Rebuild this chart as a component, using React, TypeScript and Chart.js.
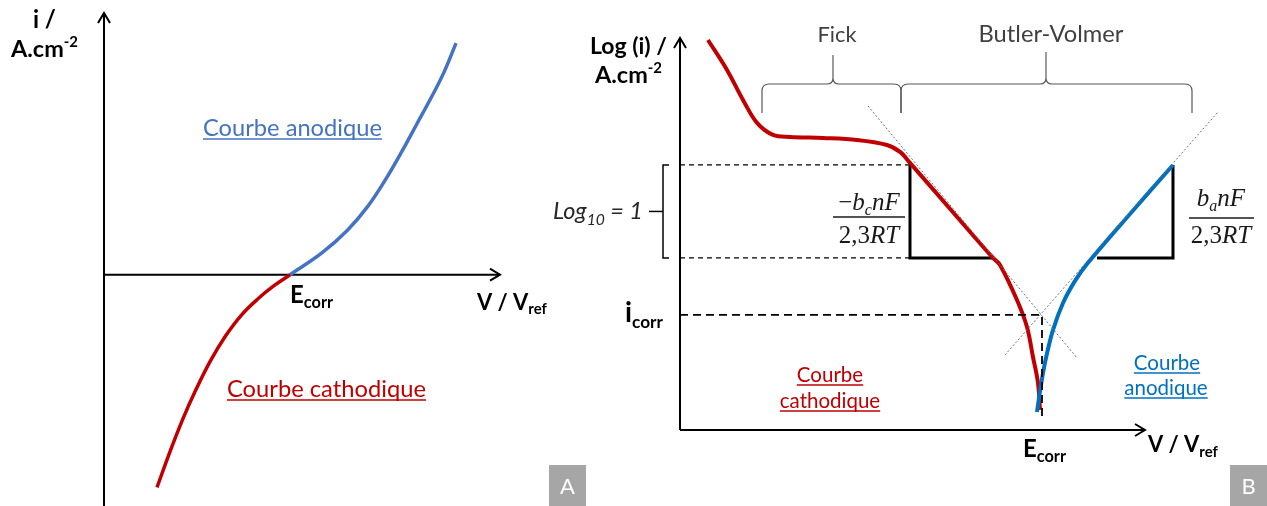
import React, { useEffect, useRef } from "react";
import { Chart, registerables } from "chart.js";

Chart.register(...registerables);

const W = 1267;
const H = 506;

const RED = "#C00000";
const BLUE_A = "#4472C4";
const BLUE_B = "#0070C0";
const SANS = "Lato, 'Open Sans', sans-serif";
const SERIF = "'Liberation Serif', 'DejaVu Serif', serif";

// ---------------- Panel A : i = f(V) (arbitrary units) ----------------
const A_V_MIN = 0;
const A_V_MAX = 10;
const A_I_MIN = -8.8;
const A_I_MAX = 10;
const A_ECORR = 4.7;

const cathodicA_V = [1.338, 1.667, 1.995, 2.323, 2.677, 3.056, 3.46, 3.889, 4.293, 4.7];
const cathodicA_i = [-8.13, -6.76, -5.5, -4.39, -3.32, -2.37, -1.56, -0.92, -0.42, 0];
const anodicA_V = [4.7, 5.51, 6.16, 6.67, 7.12, 7.53, 7.9, 8.26, 8.59, 8.89];
const anodicA_i = [0, 0.84, 1.72, 2.63, 3.66, 4.73, 5.76, 6.76, 7.75, 8.85];

// ---------------- Panel B : log(i) = f(V) ----------------
const B_V_MIN = 0;
const B_V_MAX = 12;
const B_V_AXIS_END = 10;
const B_LOGI_MIN = -6.85;
const B_LOGI_MAX = -2.635;
const B_ECORR = 7.785;
const B_LOG_ICORR = -5.613;

const cathodicB_V = [0.602, 1.011, 1.355, 1.656, 2.0, 2.366, 3.075, 3.806, 4.452, 4.731, 4.946, 5.828, 6.731, 6.882, 7.247, 7.462, 7.591, 7.699, 7.742];
const cathodicB_logi = [-2.656, -2.978, -3.301, -3.548, -3.677, -3.699, -3.71, -3.731, -3.785, -3.86, -3.978, -4.484, -5.0, -5.075, -5.452, -5.742, -6.065, -6.344, -6.634];
const anodicB_V = [7.677, 7.763, 7.871, 8.022, 8.237, 8.495, 8.753, 9.677, 10.602];
const anodicB_logi = [-6.656, -6.366, -6.075, -5.774, -5.484, -5.247, -5.065, -4.527, -4.0];

const tafelCathodic_V = [4.043, 8.538];
const tafelCathodic_logi = [-3.366, -6.075];
const tafelAnodic_V = [6.989, 11.57];
const tafelAnodic_logi = [-6.043, -3.43];

const slopeCathodic_V = [4.946, 4.946, 6.731];
const slopeCathodic_logi = [-4, -5, -5];
const slopeAnodic_V = [8.968, 10.602, 10.602];
const slopeAnodic_logi = [-5, -5, -4];

const guideUpper_V = [0, 4.946];
const guideUpper_logi = [-4, -4];
const guideLower_V = [0, 4.946];
const guideLower_logi = [-5, -5];
const guideIcorr_V = [0, B_ECORR, B_ECORR];
const guideIcorr_logi = [B_LOG_ICORR, B_LOG_ICORR, -6.742];

const pts = (xs: number[], ys: number[]) => xs.map((x, i) => ({ x, y: ys[i] }));

type Run = { t: string; size: number; weight?: string; italic?: boolean; family?: string; dy?: number };

function fontOf(r: Run, s: number) {
  return `${r.italic ? "italic " : ""}${r.weight || "normal"} ${r.size * s}px ${r.family || SANS}`;
}

function drawRuns(
  ctx: CanvasRenderingContext2D,
  runs: Run[],
  x: number,
  y: number,
  o: { align?: "left" | "center" | "right"; width?: number; color?: string; underline?: number } = {}
) {
  ctx.save();
  ctx.textBaseline = "alphabetic";
  ctx.textAlign = "left";
  const measure = (s: number) =>
    runs.reduce((w, r) => {
      ctx.font = fontOf(r, s);
      return w + ctx.measureText(r.t).width;
    }, 0);
  let s = 1;
  if (o.width) s = o.width / measure(1);
  const total = measure(s);
  let cx = o.align === "center" ? x - total / 2 : o.align === "right" ? x - total : x;
  const start = cx;
  ctx.fillStyle = o.color || "#000";
  for (const r of runs) {
    ctx.font = fontOf(r, s);
    ctx.fillText(r.t, cx, y + (r.dy || 0) * s);
    cx += ctx.measureText(r.t).width;
  }
  if (o.underline != null) {
    ctx.strokeStyle = o.color || "#000";
    ctx.lineWidth = 1.4;
    ctx.beginPath();
    ctx.moveTo(start, y + o.underline);
    ctx.lineTo(cx, y + o.underline);
    ctx.stroke();
  }
  ctx.restore();
}

function seg(ctx: CanvasRenderingContext2D, x1: number, y1: number, x2: number, y2: number) {
  ctx.beginPath();
  ctx.moveTo(x1, y1);
  ctx.lineTo(x2, y2);
  ctx.stroke();
}

function arrow(ctx: CanvasRenderingContext2D, x: number, y: number, dir: "up" | "right") {
  ctx.beginPath();
  if (dir === "up") {
    ctx.moveTo(x - 6, y + 10);
    ctx.lineTo(x, y);
    ctx.lineTo(x + 6, y + 10);
  } else {
    ctx.moveTo(x - 10, y - 6);
    ctx.lineTo(x, y);
    ctx.lineTo(x - 10, y + 6);
  }
  ctx.stroke();
}

function brace(ctx: CanvasRenderingContext2D, xl: number, xr: number, xm: number, yH: number, yEnd: number, yTop: number) {
  const r = 7;
  const rp = 6;
  ctx.beginPath();
  ctx.moveTo(xl, yEnd);
  ctx.lineTo(xl, yH + r);
  ctx.quadraticCurveTo(xl, yH, xl + r, yH);
  ctx.lineTo(xm - rp, yH);
  ctx.quadraticCurveTo(xm, yH, xm, yH - rp);
  ctx.lineTo(xm, yTop);
  ctx.moveTo(xm, yH - rp);
  ctx.quadraticCurveTo(xm, yH, xm + rp, yH);
  ctx.lineTo(xr - r, yH);
  ctx.quadraticCurveTo(xr, yH, xr, yH + r);
  ctx.lineTo(xr, yEnd);
  ctx.stroke();
}

function box(ctx: CanvasRenderingContext2D, x: number, y: number, w: number, h: number, label: string) {
  ctx.save();
  ctx.fillStyle = "#A6A6A6";
  ctx.fillRect(x, y, w, h);
  ctx.fillStyle = "#FFFFFF";
  ctx.font = `normal 22px ${SANS}`;
  ctx.textAlign = "center";
  ctx.textBaseline = "middle";
  ctx.fillText(label, x + w / 2, y + h / 2 + 1);
  ctx.restore();
}

const panelAPlugin = {
  id: "panelA",
  beforeDatasetsDraw(chart: any) {
    const { ctx, scales } = chart;
    const x = scales.x;
    const y = scales.y;
    const x0 = x.getPixelForValue(A_V_MIN);
    const yi0 = y.getPixelForValue(0);
    const yTop = y.getPixelForValue(A_I_MAX);
    const xEnd = x.getPixelForValue(A_V_MAX);
    ctx.save();
    ctx.strokeStyle = "#000";
    ctx.lineWidth = 2;
    seg(ctx, x0, H, x0, yTop);
    arrow(ctx, x0, yTop, "up");
    seg(ctx, x0, yi0, xEnd, yi0);
    arrow(ctx, xEnd, yi0, "right");
    ctx.restore();
  },
  afterDatasetsDraw(chart: any) {
    const { ctx, scales } = chart;
    const xE = scales.x.getPixelForValue(A_ECORR);
    drawRuns(ctx, [{ t: "i /", size: 22, weight: "bold" }], 33, 28, { width: 23 });
    drawRuns(ctx, [{ t: "A.cm", size: 22, weight: "bold" }, { t: "-2", size: 14, weight: "bold", dy: -9 }], 11, 57, { width: 67 });
    drawRuns(ctx, [{ t: "E", size: 22, weight: "bold" }, { t: "corr", size: 15, weight: "bold", dy: 5 }], xE, 303, { width: 43 });
    drawRuns(ctx, [{ t: "V / V", size: 22, weight: "bold" }, { t: "ref", size: 15, weight: "bold", dy: 4 }], 477, 310, { width: 70 });
    drawRuns(ctx, [{ t: "Courbe anodique", size: 22 }], 203, 136, { width: 179, color: BLUE_A, underline: 3 });
    drawRuns(ctx, [{ t: "Courbe cathodique", size: 22 }], 227, 397, { width: 199, color: RED, underline: 3 });
    box(ctx, 549, 465, 37, 41, "A");
  },
};

const panelBPlugin = {
  id: "panelB",
  beforeDatasetsDraw(chart: any) {
    const { ctx, scales } = chart;
    const x = scales.x;
    const y = scales.y;
    const x0 = x.getPixelForValue(B_V_MIN);
    const yBot = y.getPixelForValue(B_LOGI_MIN);
    const yTop = y.getPixelForValue(B_LOGI_MAX);
    const xEnd = x.getPixelForValue(B_V_AXIS_END);
    ctx.save();
    ctx.strokeStyle = "#000";
    ctx.lineWidth = 2;
    seg(ctx, x0, yBot, x0, yTop);
    arrow(ctx, x0, yTop, "up");
    seg(ctx, x0, yBot, xEnd, yBot);
    arrow(ctx, xEnd, yBot, "right");

    // braces
    ctx.strokeStyle = "#595959";
    ctx.lineWidth = 1.2;
    brace(ctx, 762, 901, 833, 84, 113, 55);
    brace(ctx, 901, 1192, 1046, 84, 113, 52);

    // decade bracket
    const yA = y.getPixelForValue(-4);
    const yB = y.getPixelForValue(-5);
    ctx.strokeStyle = "#000";
    ctx.lineWidth = 1.5;
    ctx.beginPath();
    ctx.moveTo(669, yA);
    ctx.lineTo(663, yA);
    ctx.lineTo(663, yB);
    ctx.lineTo(669, yB);
    ctx.stroke();
    seg(ctx, 649, (yA + yB) / 2, 663, (yA + yB) / 2);
    ctx.restore();
  },
  afterDatasetsDraw(chart: any) {
    const { ctx, scales } = chart;
    const xE = scales.x.getPixelForValue(B_ECORR);
    const yI = scales.y.getPixelForValue(B_LOG_ICORR);
    drawRuns(ctx, [{ t: "Log (i) /", size: 22, weight: "bold" }], 590, 54, { width: 77 });
    drawRuns(ctx, [{ t: "A.cm", size: 22, weight: "bold" }, { t: "-2", size: 14, weight: "bold", dy: -9 }], 595, 83, { width: 67 });
    drawRuns(ctx, [{ t: "Fick", size: 23 }], 837, 42, { width: 39, align: "center", color: "#404040" });
    drawRuns(ctx, [{ t: "Butler-Volmer", size: 23 }], 1051, 42, { width: 145, align: "center", color: "#404040" });
    drawRuns(
      ctx,
      [
        { t: "Log", size: 21, italic: true },
        { t: "10", size: 14, italic: true, dy: 5 },
        { t: " = 1", size: 21, italic: true },
      ],
      553,
      219,
      { width: 90, color: "#262626" }
    );
    drawRuns(ctx, [{ t: "i", size: 24, weight: "bold" }, { t: "corr", size: 15, weight: "bold", dy: 5 }], 625, yI + 7, { width: 38 });
    drawRuns(ctx, [{ t: "E", size: 22, weight: "bold" }, { t: "corr", size: 15, weight: "bold", dy: 5 }], xE - 19, 457, { width: 43 });
    drawRuns(ctx, [{ t: "V / V", size: 22, weight: "bold" }, { t: "ref", size: 15, weight: "bold", dy: 5 }], 1148, 452, { width: 70 });

    // Tafel slope fractions
    const fr = (cx: number, sub: string, neg: boolean, barL: number, barR: number, numY: number, barY: number, denY: number) => {
      const num: Run[] = [];
      if (neg) num.push({ t: "\u2212", size: 25, family: SERIF });
      num.push({ t: "b", size: 25, italic: true, family: SERIF });
      num.push({ t: sub, size: 16, italic: true, family: SERIF, dy: 5 });
      num.push({ t: "nF", size: 25, italic: true, family: SERIF });
      drawRuns(ctx, num, cx, numY, { align: "center", color: "#1a1a1a" });
      ctx.save();
      ctx.strokeStyle = "#1a1a1a";
      ctx.lineWidth = 1.3;
      seg(ctx, barL, barY, barR, barY);
      ctx.restore();
      drawRuns(
        ctx,
        [
          { t: "2,3", size: 25, family: SERIF },
          { t: "RT", size: 25, italic: true, family: SERIF },
        ],
        cx,
        denY,
        { align: "center", color: "#1a1a1a" }
      );
    };
    fr(869, "c", true, 833, 905, 210, 217, 243);
    fr(1221, "a", false, 1189, 1254, 206, 218, 243);

    drawRuns(ctx, [{ t: "Courbe", size: 20.5 }], 830, 382, { align: "center", color: RED, underline: 3 });
    drawRuns(ctx, [{ t: "cathodique", size: 20.5 }], 830, 408, { align: "center", color: RED, underline: 3 });
    drawRuns(ctx, [{ t: "Courbe", size: 20.5 }], 1167, 370, { align: "center", color: BLUE_B, underline: 3 });
    drawRuns(ctx, [{ t: "anodique", size: 20.5 }], 1166, 395, { align: "center", color: BLUE_B, underline: 3 });
    box(ctx, 1230, 465, 37, 41, "B");
  },
};

const lineDs = (xs: number[], ys: number[], color: string, width: number, extra: any = {}) => ({
  data: pts(xs, ys),
  showLine: true,
  borderColor: color,
  backgroundColor: color,
  borderWidth: width,
  pointRadius: 0,
  pointHoverRadius: 0,
  fill: false,
  clip: false,
  tension: 0,
  ...extra,
});

function makeA(canvas: HTMLCanvasElement) {
  return new Chart(canvas, {
    type: "scatter",
    data: {
      datasets: [
        lineDs(cathodicA_V, cathodicA_i, RED, 3.5, { tension: 0.4, order: 2 }),
        lineDs(anodicA_V, anodicA_i, BLUE_A, 3.5, { tension: 0.4, order: 1 }),
      ] as any,
    },
    options: {
      responsive: false,
      animation: false,
      events: [],
      layout: { padding: { left: 104, right: W - 500, top: 13, bottom: H - 505 } },
      scales: {
        x: { type: "linear", min: A_V_MIN, max: A_V_MAX, display: false },
        y: { type: "linear", min: A_I_MIN, max: A_I_MAX, display: false },
      },
      plugins: { legend: { display: false }, tooltip: { enabled: false } },
    } as any,
    plugins: [panelAPlugin as any],
  });
}

function makeB(canvas: HTMLCanvasElement) {
  return new Chart(canvas, {
    type: "scatter",
    data: {
      datasets: [
        lineDs(guideUpper_V, guideUpper_logi, "#000", 1.3, { borderDash: [5, 4], order: 5 }),
        lineDs(guideLower_V, guideLower_logi, "#000", 1.3, { borderDash: [5, 4], order: 5 }),
        lineDs(slopeCathodic_V, slopeCathodic_logi, "#000", 3, { order: 4, borderJoinStyle: "miter" }),
        lineDs(slopeAnodic_V, slopeAnodic_logi, "#000", 3, { order: 4, borderJoinStyle: "miter" }),
        lineDs(cathodicB_V, cathodicB_logi, RED, 4, { tension: 0.35, order: 3 }),
        lineDs(anodicB_V, anodicB_logi, BLUE_B, 4, { tension: 0.35, order: 2 }),
        lineDs(guideIcorr_V, guideIcorr_logi, "#000", 1.8, { borderDash: [8, 5], order: 1 }),
        lineDs(tafelCathodic_V, tafelCathodic_logi, "#707070", 1, { borderDash: [2, 2], order: 0 }),
        lineDs(tafelAnodic_V, tafelAnodic_logi, "#707070", 1, { borderDash: [2, 2], order: 0 }),
      ] as any,
    },
    options: {
      responsive: false,
      animation: false,
      events: [],
      layout: { padding: { left: 680, right: W - 1238, top: 38, bottom: H - 430 } },
      scales: {
        x: { type: "linear", min: B_V_MIN, max: B_V_MAX, display: false },
        y: { type: "linear", min: B_LOGI_MIN, max: B_LOGI_MAX, display: false },
      },
      plugins: { legend: { display: false }, tooltip: { enabled: false } },
    } as any,
    plugins: [panelBPlugin as any],
  });
}

export default function App() {
  const refA = useRef<HTMLCanvasElement | null>(null);
  const refB = useRef<HTMLCanvasElement | null>(null);

  useEffect(() => {
    if (!refA.current || !refB.current) return;
    const a = makeA(refA.current);
    const b = makeB(refB.current);
    return () => {
      a.destroy();
      b.destroy();
    };
  }, []);

  const cs: React.CSSProperties = { position: "absolute", left: 0, top: 0, width: W, height: H };
  return (
    <div style={{ position: "fixed", left: 0, top: 0, width: W, height: H, background: "#fff" }}>
      <canvas ref={refA} width={W} height={H} style={cs} />
      <canvas ref={refB} width={W} height={H} style={cs} />
    </div>
  );
}
